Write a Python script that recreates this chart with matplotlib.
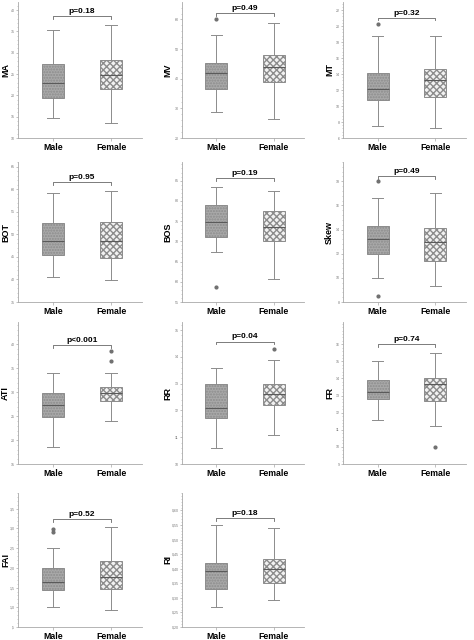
import numpy as np
import matplotlib
matplotlib.use("Agg")
import matplotlib.pyplot as plt
from matplotlib.ticker import AutoMinorLocator

plt.rcParams['font.family'] = ['Liberation Sans', 'DejaVu Sans']

#variables y p-valores
names = ["MA", "MV", "MT", "BOT", "BOS", "Skew", "ATI", "RR", "FR", "FAI", "RI"]
p_text = ["p=0.18", "p=0.49", "p=0.32", "p=0.95", "p=0.19", "p=0.49",
          "p<0.001", "p=0.04", "p=0.74", "p=0.52", "p=0.18"]
groups = ["Male", "Female"]

#[whisker low, q1, median, q3, whisker high]
male_stats = [
    [14.6, 19.4, 22.9, 27.3, 35.3],
    [28.9, 36.7, 41.9, 45.4, 54.7],
    [7.5, 10.7, 12.1, 14.1, 18.8],
    [40.5, 45.3, 48.6, 52.5, 59.2],
    [67.4, 71.0, 74.8, 79.0, 83.4],
    [10.0, 12.0, 13.2, 14.3, 16.6],
    [18.6, 24.8, 27.4, 29.9, 34.1],
    [10.6, 11.7, 12.1, 13.0, 13.6],
    [11.6, 12.8, 13.2, 13.9, 15.0],
    [1.0, 1.43, 1.63, 2.0, 2.5],
    [0.27, 0.33, 0.391, 0.42, 0.551],
]
female_stats = [
    [13.6, 21.5, 24.8, 28.2, 36.5],
    [26.4, 39.0, 43.8, 48.1, 58.9],
    [7.2, 11.1, 13.2, 14.6, 18.7],
    [39.8, 44.8, 48.6, 52.8, 59.6],
    [60.8, 70.0, 73.5, 77.4, 82.4],
    [9.3, 11.4, 13.0, 14.1, 17.0],
    [23.9, 28.2, 29.8, 31.2, 34.1],
    [11.1, 12.2, 12.6, 13.0, 13.9],
    [11.2, 12.7, 13.7, 14.0, 15.5],
    [0.93, 1.47, 1.76, 2.17, 3.05],
    [0.291, 0.35, 0.40, 0.435, 0.541],
]
male_outliers = [[], [60.0], [20.3], [], [58.6], [18.0, 8.5], [], [], [], [2.98, 2.90], []]
female_outliers = [[], [], [], [], [], [], [38.6, 36.6], [14.3], [10.0], [], []]

#altura del corchete del p-valor
bracket_y = [38.5, 62.2, 21.05, 61.5, 85.7, 18.4, 39.9, 14.57, 16.0, 3.23, 0.574]

#ejes y
y_limits = [(10, 41.9), (20, 65.9), (6, 23), (35, 66), (55, 89.6), (8, 19.6),
            (15, 44.7), (10, 15.3), (9, 17.3), (0.5, 3.9), (0.2, 0.66)]
y_ticks = [
    [10, 15, 20, 25, 30, 35, 40],
    [20, 30, 40, 50, 60],
    [6, 8, 10, 12, 14, 16, 18, 20, 22],
    [35, 40, 45, 50, 55, 60, 65],
    [55, 60, 65, 70, 75, 80, 85],
    [8, 10, 12, 14, 16, 18],
    [15, 20, 25, 30, 35, 40],
    [10, 11, 12, 13, 14, 15],
    [9, 10, 11, 12, 13, 14, 15, 16],
    [0.5, 1.0, 1.5, 2.0, 2.5, 3.0, 3.5],
    [0.20, 0.25, 0.30, 0.35, 0.40, 0.45, 0.50, 0.55, 0.60],
]
y_ticklabels = [
    None, None, None, None, None, None, None, None, None,
    [",5", "1,0", "1,5", "2,0", "2,5", "3,0", "3,5"],
    ["0,20", "0,25", "0,30", "0,35", "0,40", "0,45", "0,50", "0,55", "0,60"],
]

#posicion de los paneles en pixeles (izq, der, arriba, abajo)
W, H = 474, 640
col_x = [(18, 142), (182, 304), (343, 466)]
row_y = [(2, 138), (162, 302), (322, 464), (493, 627)]
label_x = [10, 172, 334]

fig = plt.figure(figsize=(W / 100, H / 100), dpi=100)
fig.patch.set_facecolor("white")

axis_grey = "#a8a8a8"
line_grey = "#8c8c8c"

for i, name in enumerate(names):
    r, c = divmod(i, 3)
    x0, x1 = col_x[c]
    yt, yb = row_y[r]
    ax = fig.add_axes([x0 / W, 1 - yb / H, (x1 - x0) / W, (yb - yt) / H])

    stats = []
    for s, fl in ((male_stats[i], male_outliers[i]), (female_stats[i], female_outliers[i])):
        stats.append(dict(whislo=s[0], q1=s[1], med=s[2], q3=s[3], whishi=s[4], fliers=fl))

    bp = ax.bxp(stats, positions=[1, 2], widths=0.38, patch_artist=True,
                showfliers=True,
                boxprops=dict(edgecolor=line_grey, linewidth=0.7),
                whiskerprops=dict(color=line_grey, linewidth=0.7),
                capprops=dict(color=line_grey, linewidth=0.7),
                medianprops=dict(color="#5a5a5a", linewidth=0.8),
                flierprops=dict(marker="o", markersize=2.0, markerfacecolor="#707070",
                                markeredgecolor="#707070", linestyle="none"),
                capwidths=0.2)
    bp["boxes"][0].set_facecolor("#a9a9a9")
    bp["boxes"][0].set_hatch("......")
    bp["boxes"][1].set_facecolor("#f2f2f2")
    bp["boxes"][1].set_hatch("xxxxx")

    ax.set_xlim(0.4, 2.53)
    ax.set_ylim(*y_limits[i])
    ax.set_yticks(y_ticks[i])
    if y_ticklabels[i] is not None:
        ax.set_yticklabels(y_ticklabels[i])
    ax.yaxis.set_minor_locator(AutoMinorLocator(5))
    ax.tick_params(axis="y", which="major", labelsize=2.6, labelcolor="#777777",
                   color=axis_grey, length=1.5, width=0.5, pad=0.8)
    ax.tick_params(axis="y", which="minor", color=axis_grey, length=1, width=0.4)
    ax.set_xticks([1, 2])
    ax.set_xticklabels(groups, fontsize=6.3, fontweight="bold")
    ax.tick_params(axis="x", color=axis_grey, length=2, width=0.5, pad=1.5)

    for side in ("top", "right"):
        ax.spines[side].set_visible(False)
    for side in ("left", "bottom"):
        ax.spines[side].set_color(axis_grey)
        ax.spines[side].set_linewidth(0.6)

    ax.set_ylabel(name, fontsize=6.5, fontweight="bold")
    ax.yaxis.set_label_coords((label_x[c] - x0) / (x1 - x0), 0.5)

    #corchete con el p-valor
    by = bracket_y[i]
    tick = (y_limits[i][1] - y_limits[i][0]) * 0.02
    ax.plot([1, 1, 2, 2], [by - tick, by, by, by - tick], color="#666666", linewidth=0.6)
    ax.text(1.5, by + tick * 0.4, p_text[i], ha="center", va="bottom",
            fontsize=6, fontweight="bold")

plt.savefig("out.png", dpi=100)
